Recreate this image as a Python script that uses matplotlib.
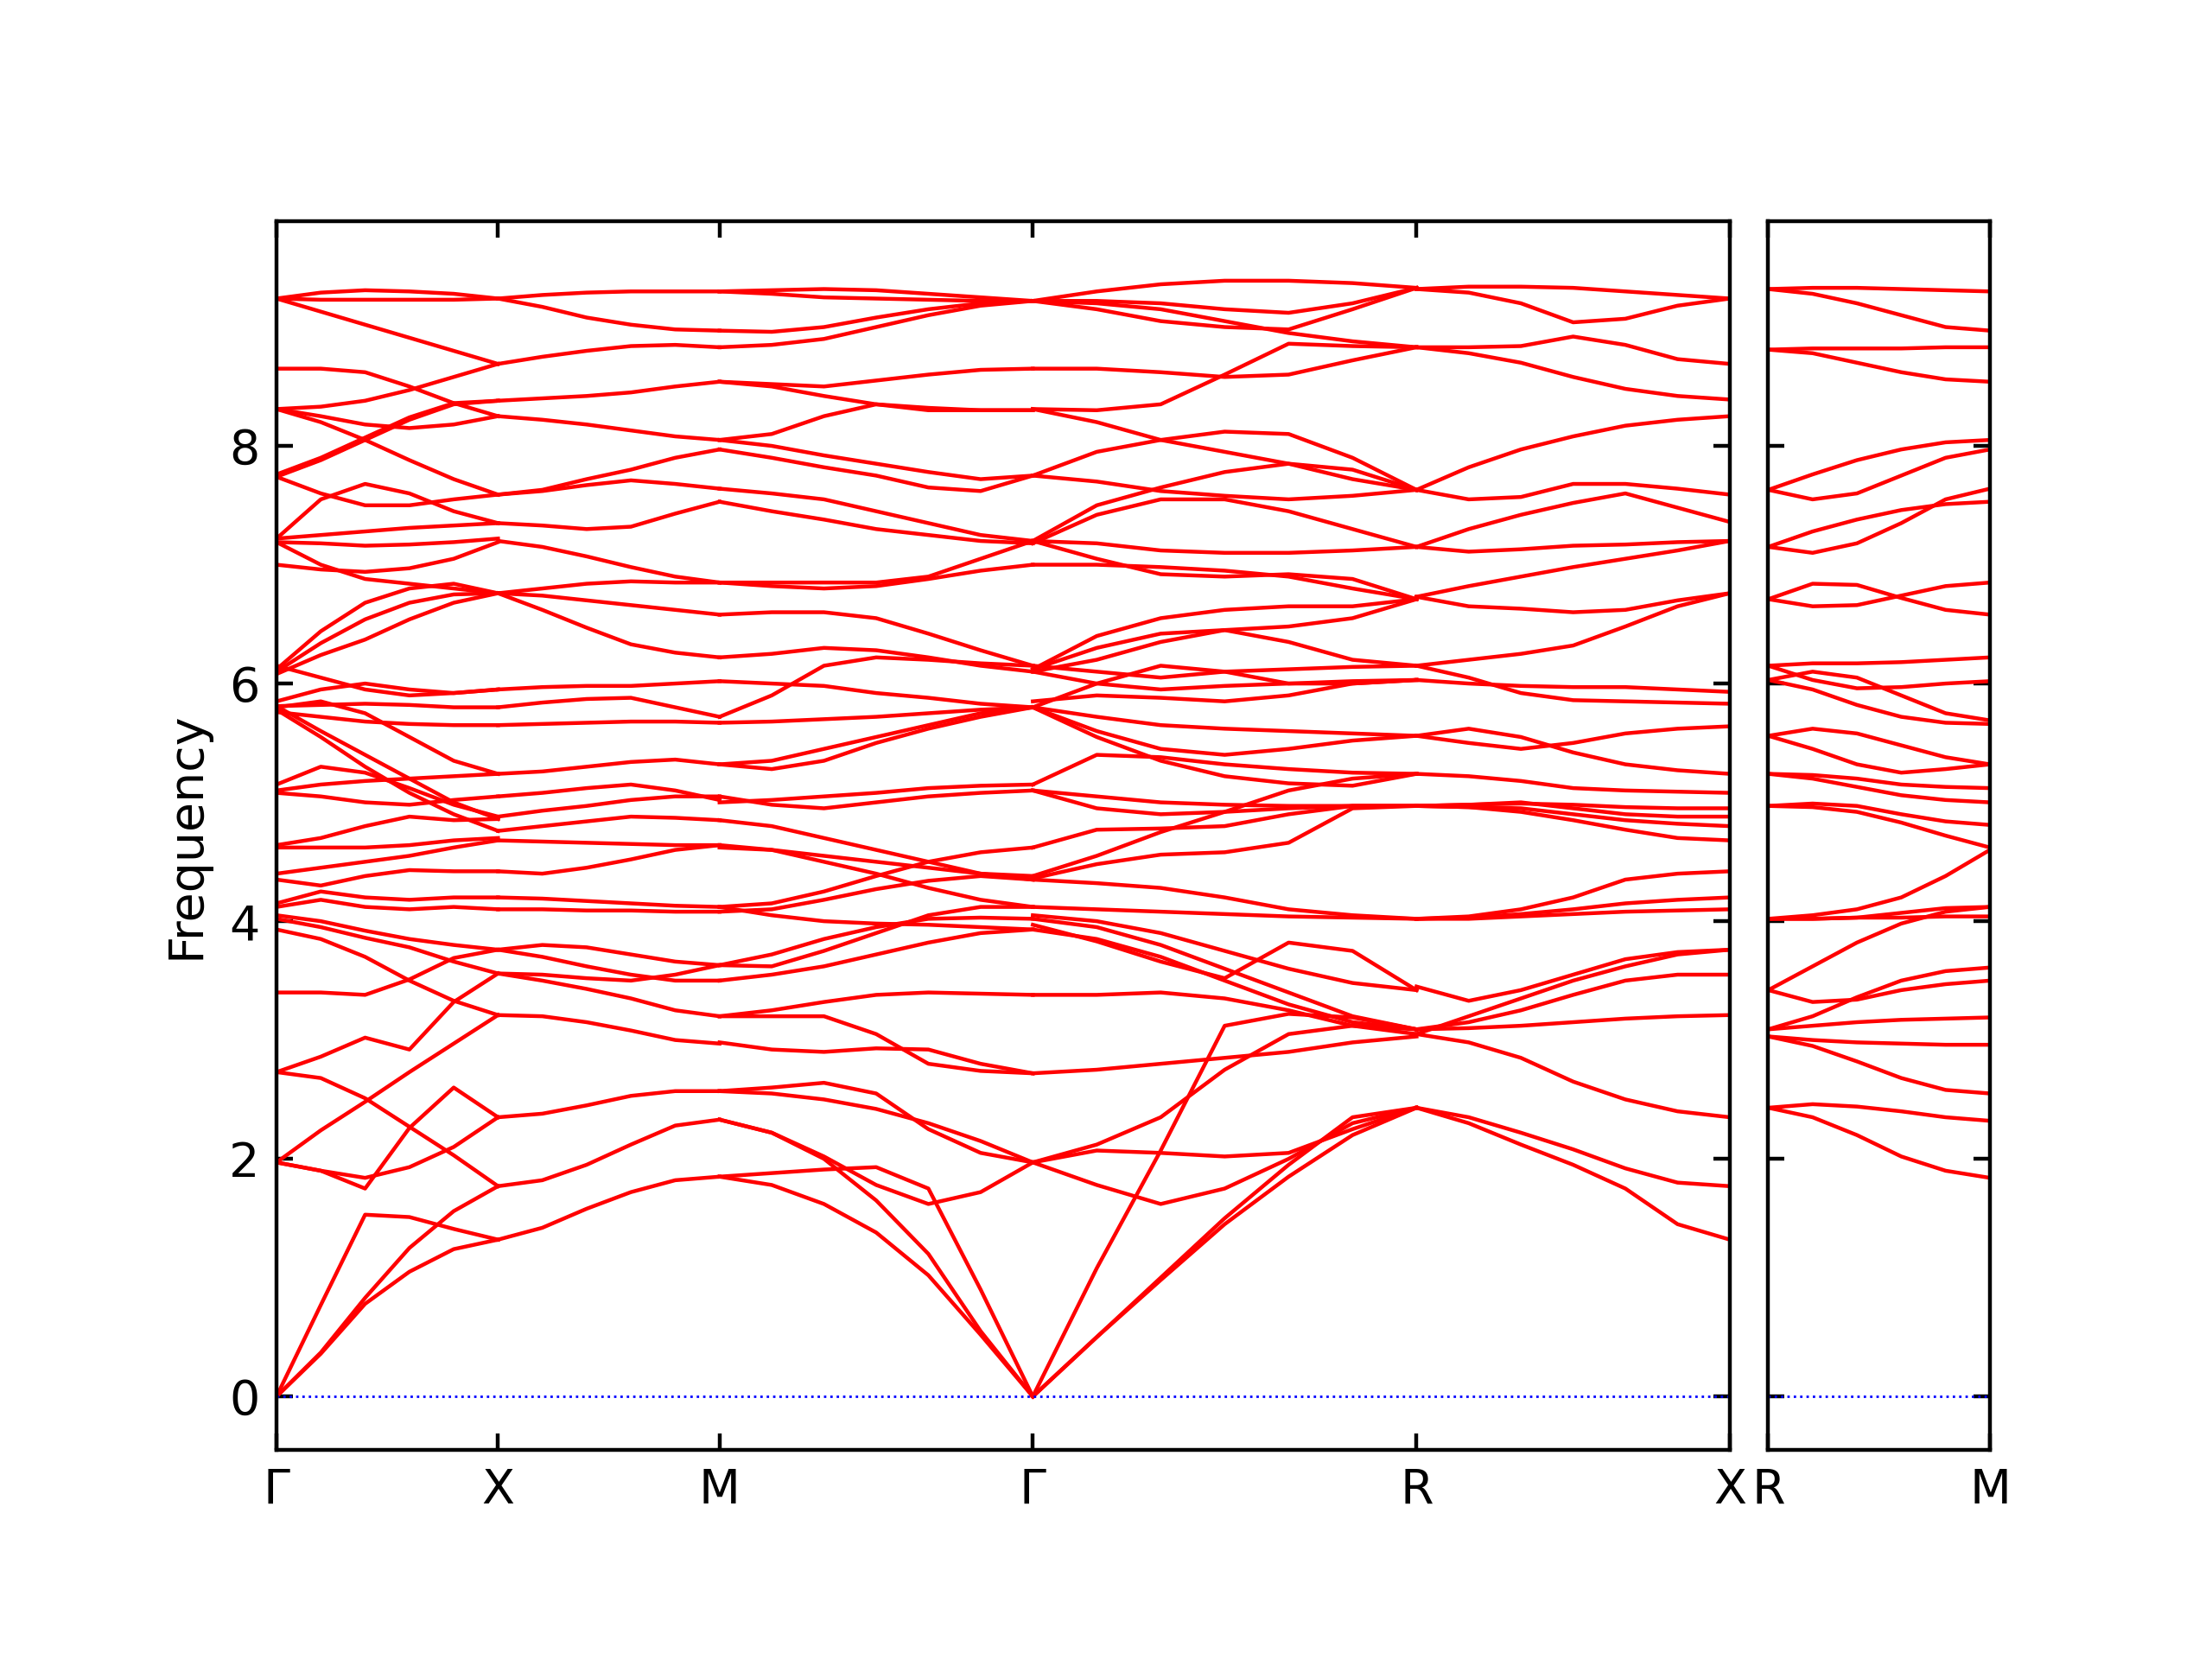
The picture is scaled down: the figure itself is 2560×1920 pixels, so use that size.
import matplotlib
matplotlib.use("Agg")
import matplotlib.pyplot as plt
import numpy as np

# path lengths of each segment (reciprocal units)
seg_names = ["G-X", "X-M", "M-G", "G-R", "R-X"]
seg_len = [0.5, 0.5, 0.7071, 0.8660, 0.7071]
rm_len = 0.5
main_labels = ["Γ", "X", "M", "Γ", "R", "X"]
side_labels = ["R", "M"]

# fractional positions along a segment where frequencies were read
f6 = [0, 0.2, 0.4, 0.6, 0.8, 1.0]
f7 = [0, 1/6, 2/6, 3/6, 4/6, 5/6, 1.0]

# Gamma -> X
bands_gx = [
    [0, 0.77, 1.53, 1.51, 1.41, 1.32],
    [0, 0.37, 0.83, 1.25, 1.56, 1.77],
    [0, 0.36, 0.78, 1.05, 1.24, 1.32],
    [1.97, 2.24, 2.48, 2.73, 2.97, 3.21],
    [1.97, 1.90, 1.75, 2.26, 2.60, 2.35],
    [1.97, 1.90, 1.84, 1.93, 2.10, 2.35],
    [2.73, 2.68, 2.51, 2.27, 2.03, 1.77],
    [2.73, 2.86, 3.02, 2.92, 3.32, 3.56],
    [3.40, 3.40, 3.38, 3.51, 3.69, 3.76],
    [3.93, 3.85, 3.70, 3.50, 3.33, 3.21],
    [4.02, 3.95, 3.86, 3.78, 3.66, 3.56],
    [4.05, 4.00, 3.92, 3.85, 3.80, 3.76],
    [4.12, 4.18, 4.12, 4.10, 4.12, 4.10],
    [4.15, 4.25, 4.20, 4.18, 4.20, 4.20],
    [4.35, 4.30, 4.38, 4.43, 4.42, 4.42],
    [4.40, 4.45, 4.50, 4.55, 4.62, 4.68],
    [4.62, 4.62, 4.62, 4.64, 4.68, 4.70],
    [5.15, 5.30, 5.25, 5.12, 4.98, 4.88],
    [5.10, 5.15, 5.18, 5.20, 5.22, 5.24],
    [5.08, 5.05, 5.00, 4.98, 5.02, 5.05],
    [4.64, 4.70, 4.80, 4.88, 4.85, 4.86],
    [5.81, 5.60, 5.40, 5.20, 5.00, 4.86],
    [5.78, 5.55, 5.30, 5.08, 4.90, 4.76],
    [5.85, 5.95, 6.00, 5.95, 5.92, 5.95],
    [5.81, 5.82, 5.83, 5.82, 5.80, 5.80],
    [5.76, 5.72, 5.68, 5.66, 5.65, 5.65],
    [5.80, 5.85, 5.75, 5.55, 5.35, 5.24],
    [6.15, 6.05, 5.95, 5.90, 5.92, 5.95],
    [6.12, 6.44, 6.68, 6.80, 6.84, 6.76],
    [6.10, 6.34, 6.54, 6.68, 6.75, 6.76],
    [6.08, 6.24, 6.37, 6.54, 6.68, 6.76],
    [7.00, 6.96, 6.94, 6.97, 7.05, 7.19],
    [7.19, 7.00, 6.88, 6.84, 6.80, 6.76],
    [7.19, 7.18, 7.16, 7.17, 7.19, 7.22],
    [7.22, 7.25, 7.28, 7.31, 7.33, 7.35],
    [7.22, 7.55, 7.68, 7.60, 7.45, 7.35],
    [7.74, 7.60, 7.50, 7.50, 7.55, 7.59],
    [7.74, 7.88, 8.05, 8.22, 8.35, 8.38],
    [7.76, 7.90, 8.07, 8.24, 8.36, 8.38],
    [8.31, 8.20, 8.05, 7.88, 7.72, 7.59],
    [8.31, 8.25, 8.18, 8.15, 8.18, 8.25],
    [8.31, 8.33, 8.38, 8.47, 8.58, 8.69],
    [8.65, 8.65, 8.62, 8.50, 8.36, 8.25],
    [9.24, 9.13, 9.02, 8.91, 8.80, 8.69],
    [9.24, 9.23, 9.23, 9.23, 9.23, 9.24],
    [9.24, 9.29, 9.31, 9.30, 9.28, 9.24],
]

# X -> M
bands_xm = [
    [9.24, 9.27, 9.29, 9.30, 9.30, 9.30],
    [9.24, 9.17, 9.08, 9.02, 8.98, 8.97],
    [8.69, 8.75, 8.80, 8.84, 8.85, 8.83],
    [8.38, 8.40, 8.42, 8.45, 8.50, 8.54],
    [8.25, 8.22, 8.18, 8.13, 8.08, 8.05],
    [7.59, 7.63, 7.72, 7.80, 7.90, 7.97],
    [7.59, 7.62, 7.67, 7.71, 7.68, 7.64],
    [7.35, 7.33, 7.30, 7.32, 7.43, 7.53],
    [7.20, 7.15, 7.07, 6.98, 6.90, 6.85],
    [6.76, 6.80, 6.84, 6.86, 6.85, 6.85],
    [6.76, 6.74, 6.70, 6.66, 6.62, 6.58],
    [6.76, 6.62, 6.47, 6.33, 6.26, 6.22],
    [5.95, 5.97, 5.98, 5.98, 6.00, 6.02],
    [5.80, 5.84, 5.87, 5.88, 5.80, 5.72],
    [5.65, 5.66, 5.67, 5.68, 5.68, 5.67],
    [5.24, 5.26, 5.30, 5.34, 5.36, 5.32],
    [5.05, 5.08, 5.12, 5.15, 5.10, 5.02],
    [4.88, 4.93, 4.97, 5.02, 5.05, 5.05],
    [4.76, 4.80, 4.84, 4.88, 4.87, 4.85],
    [4.68, 4.67, 4.66, 4.65, 4.64, 4.64],
    [4.42, 4.40, 4.45, 4.52, 4.60, 4.64],
    [4.20, 4.19, 4.17, 4.15, 4.13, 4.12],
    [4.10, 4.10, 4.09, 4.09, 4.08, 4.08],
    [3.76, 3.80, 3.78, 3.72, 3.66, 3.63],
    [3.76, 3.70, 3.62, 3.55, 3.50, 3.50],
    [3.56, 3.50, 3.43, 3.35, 3.25, 3.20],
    [3.56, 3.55, 3.52, 3.50, 3.55, 3.63],
    [3.21, 3.20, 3.15, 3.08, 3.00, 2.97],
    [2.35, 2.38, 2.45, 2.53, 2.57, 2.57],
    [1.77, 1.82, 1.95, 2.12, 2.28, 2.33],
    [1.32, 1.42, 1.58, 1.72, 1.82, 1.85],
]

# M -> Gamma
bands_mg = [
    [9.30, 9.31, 9.32, 9.31, 9.28, 9.25, 9.22],
    [9.30, 9.28, 9.25, 9.24, 9.23, 9.22, 9.22],
    [8.97, 8.96, 9.00, 9.08, 9.15, 9.20, 9.22],
    [8.83, 8.85, 8.90, 9.00, 9.10, 9.18, 9.22],
    [8.54, 8.52, 8.50, 8.55, 8.60, 8.64, 8.65],
    [8.54, 8.50, 8.42, 8.35, 8.30, 8.30, 8.30],
    [8.05, 8.10, 8.25, 8.35, 8.32, 8.30, 8.30],
    [8.05, 8.00, 7.92, 7.85, 7.78, 7.72, 7.75],
    [7.97, 7.90, 7.82, 7.75, 7.65, 7.62, 7.75],
    [7.64, 7.60, 7.55, 7.45, 7.35, 7.25, 7.20],
    [7.53, 7.45, 7.38, 7.30, 7.25, 7.20, 7.18],
    [6.85, 6.85, 6.85, 6.85, 6.90, 7.05, 7.20],
    [6.85, 6.82, 6.80, 6.82, 6.88, 6.95, 7.00],
    [6.58, 6.60, 6.60, 6.55, 6.42, 6.28, 6.15],
    [6.22, 6.25, 6.30, 6.28, 6.22, 6.15, 6.10],
    [6.02, 6.00, 5.98, 5.92, 5.88, 5.83, 5.80],
    [5.72, 5.90, 6.15, 6.22, 6.20, 6.17, 6.15],
    [5.67, 5.68, 5.70, 5.72, 5.75, 5.78, 5.80],
    [5.32, 5.35, 5.45, 5.55, 5.65, 5.75, 5.80],
    [5.32, 5.28, 5.35, 5.50, 5.62, 5.72, 5.80],
    [5.05, 4.98, 4.95, 5.00, 5.05, 5.08, 5.10],
    [5.00, 5.02, 5.05, 5.08, 5.12, 5.14, 5.15],
    [4.85, 4.80, 4.70, 4.60, 4.50, 4.40, 4.35],
    [4.64, 4.60, 4.50, 4.40, 4.28, 4.18, 4.12],
    [4.62, 4.60, 4.55, 4.50, 4.45, 4.40, 4.38],
    [4.12, 4.15, 4.25, 4.38, 4.50, 4.58, 4.62],
    [4.12, 4.05, 4.00, 3.98, 3.97, 3.95, 3.93],
    [4.08, 4.10, 4.18, 4.27, 4.34, 4.38, 4.35],
    [3.63, 3.62, 3.75, 3.90, 4.05, 4.12, 4.12],
    [3.63, 3.72, 3.85, 3.95, 4.02, 4.03, 4.02],
    [3.50, 3.55, 3.62, 3.72, 3.82, 3.90, 3.93],
    [3.20, 3.25, 3.32, 3.38, 3.40, 3.39, 3.38],
    [3.20, 3.20, 3.20, 3.05, 2.80, 2.74, 2.72],
    [2.98, 2.92, 2.90, 2.93, 2.92, 2.80, 2.72],
    [2.57, 2.60, 2.64, 2.55, 2.25, 2.05, 1.97],
    [2.57, 2.55, 2.50, 2.42, 2.30, 2.15, 1.97],
    [2.33, 2.22, 2.02, 1.78, 1.62, 1.72, 1.97],
    [2.33, 2.22, 2.00, 1.65, 1.20, 0.55, 0.00],
    [1.85, 1.78, 1.62, 1.38, 1.02, 0.52, 0.00],
    [1.85, 1.88, 1.91, 1.93, 1.75, 0.90, 0.00],
]

# Gamma -> R
bands_gr = [
    [9.22, 9.30, 9.36, 9.39, 9.39, 9.37, 9.33],
    [9.22, 9.22, 9.20, 9.15, 9.12, 9.20, 9.33],
    [9.22, 9.15, 9.05, 9.00, 8.98, 9.15, 9.33],
    [9.22, 9.20, 9.15, 9.05, 8.95, 8.88, 8.83],
    [8.65, 8.65, 8.62, 8.58, 8.60, 8.72, 8.83],
    [8.31, 8.30, 8.35, 8.60, 8.86, 8.84, 8.83],
    [8.31, 8.20, 8.05, 7.95, 7.85, 7.72, 7.63],
    [7.75, 7.95, 8.05, 8.12, 8.10, 7.90, 7.63],
    [7.75, 7.70, 7.62, 7.58, 7.55, 7.58, 7.63],
    [7.20, 7.50, 7.65, 7.78, 7.85, 7.80, 7.63],
    [7.18, 7.42, 7.55, 7.55, 7.45, 7.30, 7.15],
    [7.20, 7.18, 7.12, 7.10, 7.10, 7.12, 7.15],
    [7.20, 7.05, 6.92, 6.90, 6.92, 6.88, 6.71],
    [7.00, 7.00, 6.98, 6.95, 6.90, 6.80, 6.71],
    [6.12, 6.40, 6.55, 6.62, 6.65, 6.65, 6.71],
    [6.12, 6.30, 6.42, 6.45, 6.48, 6.55, 6.71],
    [6.15, 6.10, 6.05, 6.10, 6.12, 6.14, 6.15],
    [6.10, 6.20, 6.35, 6.45, 6.35, 6.20, 6.15],
    [6.10, 6.00, 5.95, 5.98, 6.00, 6.02, 6.03],
    [5.80, 6.00, 6.15, 6.10, 6.00, 6.00, 6.03],
    [5.80, 5.72, 5.65, 5.62, 5.60, 5.58, 5.56],
    [5.80, 5.60, 5.45, 5.40, 5.45, 5.52, 5.56],
    [5.80, 5.55, 5.35, 5.22, 5.16, 5.14, 5.24],
    [5.85, 5.90, 5.88, 5.85, 5.90, 6.00, 6.03],
    [5.15, 5.40, 5.38, 5.32, 5.28, 5.25, 5.24],
    [5.10, 5.05, 5.00, 4.98, 4.97, 4.97, 4.97],
    [5.10, 4.95, 4.90, 4.92, 4.95, 4.97, 4.97],
    [4.62, 4.77, 4.78, 4.80, 4.90, 4.97, 4.97],
    [4.38, 4.55, 4.75, 4.92, 5.10, 5.20, 5.24],
    [4.36, 4.48, 4.56, 4.58, 4.66, 4.95, 4.97],
    [4.35, 4.32, 4.28, 4.20, 4.10, 4.05, 4.02],
    [4.12, 4.10, 4.08, 4.06, 4.04, 4.03, 4.02],
    [4.05, 4.00, 3.90, 3.75, 3.60, 3.48, 3.42],
    [3.93, 3.85, 3.70, 3.50, 3.30, 3.15, 3.09],
    [4.02, 3.95, 3.80, 3.60, 3.40, 3.20, 3.09],
    [3.38, 3.38, 3.40, 3.35, 3.25, 3.12, 3.05],
    [3.97, 3.83, 3.66, 3.52, 3.82, 3.75, 3.42],
    [2.72, 2.75, 2.80, 2.85, 2.90, 2.98, 3.03],
    [1.97, 2.12, 2.35, 2.75, 3.05, 3.12, 3.09],
    [1.97, 1.78, 1.62, 1.75, 2.00, 2.30, 2.43],
    [1.97, 2.07, 2.05, 2.02, 2.05, 2.25, 2.43],
    [0.00, 1.08, 2.07, 3.12, 3.22, 3.19, 3.09],
    [0.00, 0.50, 1.00, 1.50, 1.95, 2.35, 2.43],
    [0.00, 0.50, 0.98, 1.45, 1.85, 2.20, 2.43],
]

# R -> X
bands_rx = [
    [9.32, 9.34, 9.34, 9.33, 9.30, 9.27, 9.24],
    [9.32, 9.29, 9.20, 9.04, 9.07, 9.18, 9.24],
    [8.83, 8.83, 8.84, 8.92, 8.85, 8.73, 8.69],
    [8.83, 8.78, 8.70, 8.58, 8.48, 8.42, 8.39],
    [7.63, 7.82, 7.97, 8.08, 8.17, 8.22, 8.25],
    [7.63, 7.55, 7.57, 7.68, 7.68, 7.64, 7.59],
    [7.15, 7.30, 7.42, 7.52, 7.60, 7.48, 7.36],
    [7.15, 7.11, 7.13, 7.16, 7.17, 7.19, 7.20],
    [6.73, 6.65, 6.63, 6.60, 6.62, 6.70, 6.76],
    [6.73, 6.82, 6.90, 6.98, 7.05, 7.12, 7.20],
    [6.15, 6.20, 6.25, 6.32, 6.48, 6.65, 6.76],
    [6.03, 6.00, 5.98, 5.97, 5.97, 5.95, 5.93],
    [6.15, 6.05, 5.92, 5.86, 5.85, 5.84, 5.83],
    [5.56, 5.62, 5.55, 5.42, 5.32, 5.27, 5.24],
    [5.56, 5.50, 5.45, 5.50, 5.58, 5.62, 5.64],
    [5.24, 5.22, 5.18, 5.12, 5.10, 5.09, 5.08],
    [4.97, 4.98, 4.99, 4.98, 4.96, 4.95, 4.95],
    [4.97, 4.98, 5.00, 4.95, 4.90, 4.88, 4.88],
    [4.97, 4.96, 4.95, 4.90, 4.85, 4.82, 4.80],
    [4.97, 4.96, 4.92, 4.85, 4.77, 4.70, 4.68],
    [4.02, 4.04, 4.10, 4.20, 4.35, 4.40, 4.42],
    [4.02, 4.03, 4.06, 4.10, 4.15, 4.18, 4.20],
    [4.02, 4.02, 4.04, 4.06, 4.08, 4.09, 4.10],
    [3.05, 2.98, 2.85, 2.65, 2.50, 2.40, 2.35],
    [3.45, 3.33, 3.42, 3.55, 3.68, 3.74, 3.76],
    [3.09, 3.15, 3.25, 3.38, 3.50, 3.55, 3.55],
    [3.09, 3.10, 3.12, 3.15, 3.18, 3.20, 3.21],
    [3.05, 3.20, 3.35, 3.50, 3.62, 3.72, 3.76],
    [2.43, 2.35, 2.22, 2.08, 1.92, 1.80, 1.77],
    [2.43, 2.30, 2.12, 1.95, 1.75, 1.45, 1.32],
]

# R -> M (side panel)
bands_rm = [
    [9.32, 9.33, 9.33, 9.32, 9.31, 9.30],
    [9.32, 9.28, 9.20, 9.10, 9.00, 8.97],
    [8.81, 8.82, 8.82, 8.82, 8.83, 8.83],
    [8.81, 8.78, 8.70, 8.62, 8.56, 8.54],
    [7.63, 7.76, 7.88, 7.97, 8.03, 8.05],
    [7.63, 7.55, 7.60, 7.75, 7.90, 7.97],
    [7.15, 7.28, 7.38, 7.46, 7.51, 7.53],
    [7.15, 7.10, 7.18, 7.35, 7.55, 7.64],
    [6.71, 6.84, 6.83, 6.72, 6.62, 6.58],
    [6.71, 6.65, 6.66, 6.74, 6.82, 6.85],
    [6.15, 6.17, 6.17, 6.18, 6.20, 6.22],
    [6.15, 6.03, 5.96, 5.97, 6.00, 6.02],
    [6.03, 6.10, 6.05, 5.90, 5.75, 5.69],
    [6.03, 5.95, 5.82, 5.72, 5.67, 5.66],
    [5.56, 5.62, 5.58, 5.48, 5.38, 5.32],
    [5.56, 5.45, 5.32, 5.25, 5.28, 5.32],
    [5.24, 5.23, 5.20, 5.15, 5.13, 5.12],
    [5.24, 5.20, 5.13, 5.06, 5.02, 5.00],
    [4.97, 4.99, 4.97, 4.90, 4.84, 4.81],
    [4.97, 4.96, 4.92, 4.83, 4.72, 4.62],
    [4.02, 4.05, 4.10, 4.20, 4.38, 4.60],
    [4.02, 4.02, 4.03, 4.03, 4.04, 4.04],
    [4.02, 4.02, 4.03, 4.07, 4.11, 4.12],
    [3.42, 3.62, 3.82, 3.98, 4.08, 4.12],
    [3.42, 3.32, 3.34, 3.42, 3.47, 3.50],
    [3.09, 3.20, 3.36, 3.50, 3.58, 3.61],
    [3.09, 3.12, 3.15, 3.17, 3.18, 3.19],
    [3.03, 3.00, 2.98, 2.97, 2.96, 2.96],
    [3.03, 2.95, 2.82, 2.68, 2.58, 2.55],
    [2.43, 2.46, 2.44, 2.40, 2.35, 2.32],
    [2.43, 2.35, 2.20, 2.02, 1.90, 1.84],
]

main_segments = [
    (bands_gx, f6),
    (bands_xm, f6),
    (bands_mg, f7),
    (bands_gr, f7),
    (bands_rx, f7),
]

fig = plt.figure(figsize=(6.4, 4.8), dpi=400)
ax1 = fig.add_axes([0.125, 0.126, 0.657, 0.7406])
ax2 = fig.add_axes([0.7994, 0.126, 0.1002, 0.7406])

ticks = [0.0]
start = 0.0
for (bands, frac), length in zip(main_segments, seg_len):
    kx = start + np.array(frac) * length
    for b in bands:
        ax1.plot(kx, b, color="r", lw=0.8)
    start += length
    ticks.append(start)

kx = np.array(f6) * rm_len
for b in bands_rm:
    ax2.plot(kx, b, color="r", lw=0.8)

ax1.plot([0, start], [0, 0], color="b", ls=":", lw=0.5)
ax2.plot([0, rm_len], [0, 0], color="b", ls=":", lw=0.5)

ymin, ymax = -0.45, 9.89
ax1.set_xlim(0, start)
ax1.set_ylim(ymin, ymax)
ax1.set_xticks(ticks)
ax1.set_xticklabels(main_labels)
ax1.set_yticks([0, 2, 4, 6, 8])
ax1.set_ylabel("Frequency")

ax2.set_xlim(0, rm_len)
ax2.set_ylim(ymin, ymax)
ax2.set_xticks([0, rm_len])
ax2.set_xticklabels(side_labels)
ax2.set_yticks([0, 2, 4, 6, 8])
ax2.set_yticklabels([])

for ax in (ax1, ax2):
    ax.tick_params(direction="in", top=True, right=True)

fig.savefig("out.png", dpi=400)
